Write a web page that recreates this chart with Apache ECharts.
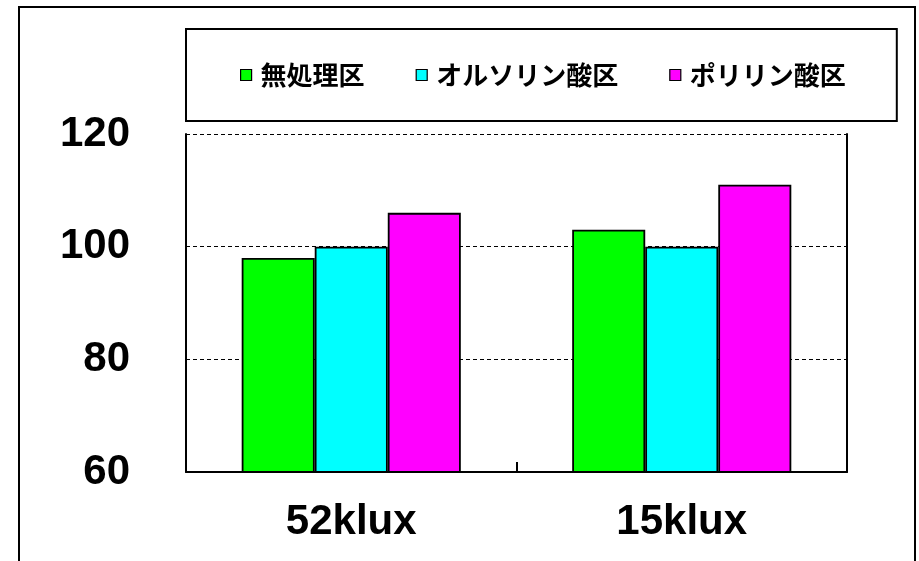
<!DOCTYPE html>
<html>
<head>
<meta charset="utf-8">
<script src="https://cdn.jsdelivr.net/npm/echarts@6/dist/echarts.min.js"></script>
<style>
html,body{margin:0;padding:0;background:#fff;}
#main{width:919px;height:561px;}
</style>
</head>
<body>
<div id="main"></div>
<script>
const categories = ['52klux', '15klux'];
const seriesNames = ['無処理区', 'オルソリン酸区', 'ポリリン酸区'];
const untreated = [98, 103];
const ortho = [100, 100];
const poly = [106, 111];
const yTicks = [60, 80, 100, 120];
const colors = ['#00FF00', '#00FFFF', '#FF00FF'];

const chart = echarts.init(document.getElementById('main'));
const numFont = '"Liberation Sans", Arial, sans-serif';
const barStyle = (c) => ({ color: c, borderColor: '#000', borderWidth: 1.8 });
const values = [untreated, ortho, poly];

chart.setOption({
  animation: false,
  backgroundColor: '#fff',
  graphic: [{
    type: 'rect', shape: { x: 19, y: 7, width: 896, height: 600 },
    style: { fill: 'none', stroke: '#000', lineWidth: 2 }, z: 0
  }],
  legend: {
    left: 186, top: 29,
    padding: [33, 51, 33, 54],
    itemGap: 51,
    itemWidth: 11, itemHeight: 11,
    icon: 'rect',
    borderColor: '#000', borderWidth: 2,
    textStyle: { fontFamily: '"Noto Sans CJK JP", sans-serif', fontWeight: 'bold', fontSize: 26, color: '#000', padding: [0, 0, 0, 4] },
    data: seriesNames.map(n => ({ name: n, itemStyle: { borderColor: '#000', borderWidth: 1.2 } }))
  },
  grid: { left: 186, top: 134, right: 72, bottom: 89 },
  xAxis: {
    type: 'category', data: categories,
    axisLine: { lineStyle: { color: '#000', width: 2 } },
    axisTick: { show: true, inside: true, length: 10, lineStyle: { color: '#000', width: 2 } },
    axisLabel: { fontFamily: numFont, fontWeight: 'bold', fontSize: 42, color: '#000', margin: 29 }
  },
  yAxis: [{
    type: 'value', min: 60, max: 120, interval: 20,
    axisLine: { show: true, lineStyle: { color: '#000', width: 2 } },
    axisTick: { show: false },
    axisLabel: { fontFamily: numFont, fontWeight: 'bold', fontSize: 42, color: '#000', margin: 56,
      formatter: v => yTicks.includes(v) ? String(v) : '' },
    splitLine: { show: true, lineStyle: { color: '#000', width: 1, type: [4, 3] } }
  }, {
    type: 'value', min: 60, max: 120, interval: 20, position: 'right',
    axisLine: { show: true, lineStyle: { color: '#000', width: 2 } },
    axisTick: { show: false }, axisLabel: { show: false }, splitLine: { show: false }
  }],
  series: seriesNames.map((n, i) => ({
    name: n, type: 'bar', data: values[i],
    barGap: '0%', barCategoryGap: '33.7%',
    itemStyle: barStyle(colors[i])
  }))
});
</script>
</body>
</html>
